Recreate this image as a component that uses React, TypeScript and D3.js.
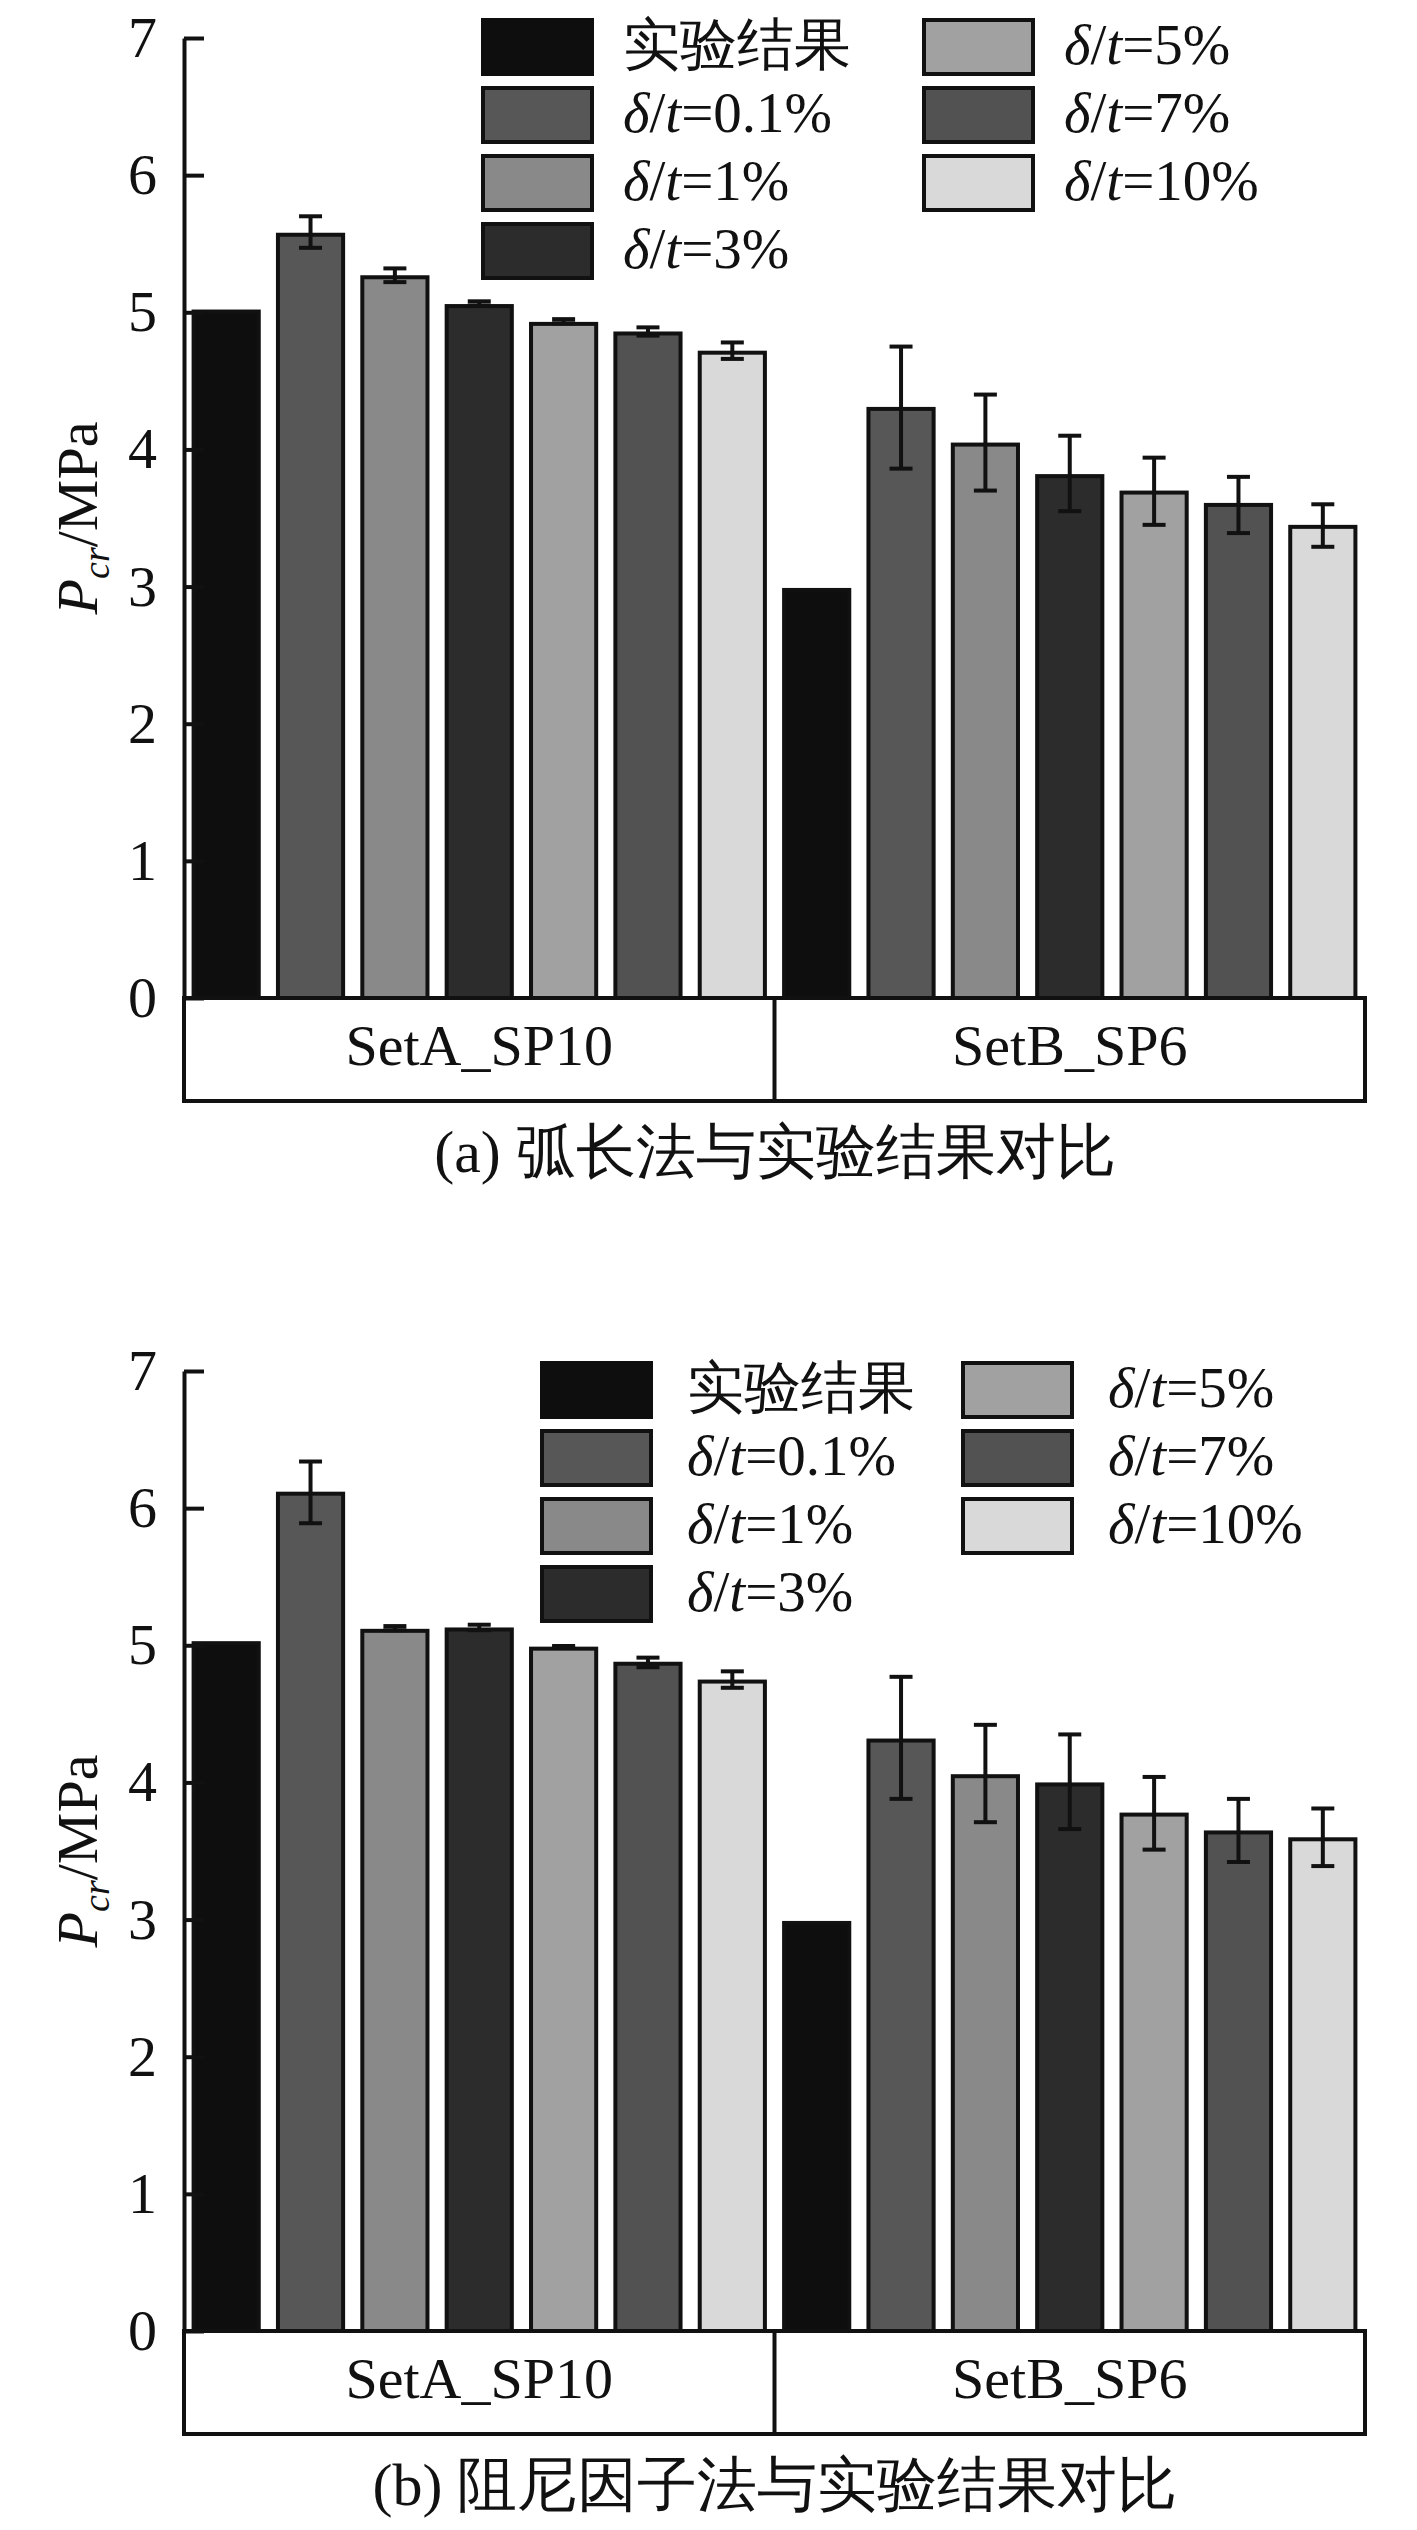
import React, { useEffect, useRef } from 'react';
import * as d3 from 'd3';

// categories and series
const categories = ['SetA_SP10', 'SetB_SP6'];
const seriesKeys = ['exp', 'd0.1', 'd1', 'd3', 'd5', 'd7', 'd10'];
const seriesNames = ['实验结果', '0.1%', '1%', '3%', '5%', '7%', '10%'];
const seriesColors = ['#0e0e0e', '#575757', '#898989', '#2c2c2c', '#a1a1a1', '#525252', '#d9d9d9'];
const yTicks = [0, 1, 2, 3, 4, 5, 6, 7];

// (a) arc-length method
const arcSetA = [5.02, 5.58, 5.27, 5.06, 4.93, 4.86, 4.72];
const arcSetALow = [NaN, 5.47, 5.22, 5.05, 4.92, 4.83, 4.66];
const arcSetAHigh = [NaN, 5.7, 5.32, 5.08, 4.95, 4.89, 4.78];
const arcSetB = [2.99, 4.31, 4.05, 3.82, 3.7, 3.61, 3.45];
const arcSetBLow = [NaN, 3.86, 3.7, 3.55, 3.45, 3.39, 3.29];
const arcSetBHigh = [NaN, 4.75, 4.4, 4.1, 3.94, 3.8, 3.6];

// (b) damping factor method
const dampSetA = [5.03, 6.12, 5.12, 5.13, 4.99, 4.88, 4.75];
const dampSetALow = [NaN, 5.89, 5.11, 5.11, 4.985, 4.84, 4.69];
const dampSetAHigh = [NaN, 6.34, 5.14, 5.15, 4.995, 4.91, 4.81];
const dampSetB = [2.99, 4.32, 4.06, 4.0, 3.78, 3.65, 3.6];
const dampSetBLow = [NaN, 3.88, 3.71, 3.66, 3.51, 3.42, 3.39];
const dampSetBHigh = [NaN, 4.77, 4.42, 4.35, 4.04, 3.88, 3.81];

const captionA = '(a) 弧长法与实验结果对比';
const captionB = '(b) 阻尼因子法与实验结果对比';

const serif = '"Liberation Serif", "DejaVu Serif", serif';

type Panel = {
  top: number;
  bottom: number;
  legendX: number;
  legendY: number;
  legendCol2: number;
  legendText: number;
  caption: string;
  means: number[][];
  lows: number[][];
  highs: number[][];
};

const App: React.FC = () => {
  const ref = useRef<HTMLDivElement>(null);

  useEffect(() => {
    if (!ref.current) return;
    document.body.style.margin = '0';
    d3.select(ref.current).select('svg').remove();

    const width = 1417;
    const height = 2530;
    const left = 184;
    const right = 1365;
    const boxH = 103;

    const svg = d3
      .select(ref.current)
      .append('svg')
      .attr('width', width)
      .attr('height', height)
      .style('display', 'block')
      .style('background', '#fff');

    const panels: Panel[] = [
      {
        top: 38,
        bottom: 998,
        legendX: 481,
        legendY: 18,
        legendCol2: 441,
        legendText: 142,
        caption: captionA,
        means: [arcSetA, arcSetB],
        lows: [arcSetALow, arcSetBLow],
        highs: [arcSetAHigh, arcSetBHigh],
      },
      {
        top: 1371,
        bottom: 2331,
        legendX: 540,
        legendY: 1361,
        legendCol2: 421,
        legendText: 147,
        caption: captionB,
        means: [dampSetA, dampSetB],
        lows: [dampSetALow, dampSetBLow],
        highs: [dampSetAHigh, dampSetBHigh],
      },
    ];

    const x0 = d3.scaleBand<string>().domain(categories).range([left, right]);
    const x1 = d3
      .scaleBand<string>()
      .domain(seriesKeys)
      .range([0, x0.bandwidth()])
      .paddingInner(0.18)
      .paddingOuter(0.09);

    panels.forEach((p) => {
      const g = svg.append('g');
      const y = d3.scaleLinear().domain([0, 7]).range([p.bottom, p.top]);

      // bars
      categories.forEach((cat, ci) => {
        const cg = g.append('g').attr('transform', `translate(${x0(cat)},0)`);
        cg.selectAll('rect')
          .data(p.means[ci])
          .enter()
          .append('rect')
          .attr('x', (d, i) => x1(seriesKeys[i])! + 2)
          .attr('y', (d) => y(d) + 2)
          .attr('width', x1.bandwidth() - 4)
          .attr('height', (d) => y(0) - y(d) - 2)
          .attr('fill', (d, i) => seriesColors[i])
          .attr('stroke', '#111')
          .attr('stroke-width', 4);

        // error bars
        const errs = p.means[ci]
          .map((d, i) => ({ i, lo: p.lows[ci][i], hi: p.highs[ci][i] }))
          .filter((e) => !isNaN(e.lo));
        const eg = cg
          .selectAll('g.err')
          .data(errs)
          .enter()
          .append('g')
          .attr('class', 'err')
          .attr('stroke', '#111')
          .attr('stroke-width', 4);
        const cx = (e: { i: number }) => x1(seriesKeys[e.i])! + x1.bandwidth() / 2;
        eg.append('line')
          .attr('x1', cx)
          .attr('x2', cx)
          .attr('y1', (e) => y(e.lo))
          .attr('y2', (e) => y(e.hi));
        eg.append('line')
          .attr('x1', (e) => cx(e) - 11.5)
          .attr('x2', (e) => cx(e) + 11.5)
          .attr('y1', (e) => y(e.hi))
          .attr('y2', (e) => y(e.hi));
        eg.append('line')
          .attr('x1', (e) => cx(e) - 11.5)
          .attr('x2', (e) => cx(e) + 11.5)
          .attr('y1', (e) => y(e.lo))
          .attr('y2', (e) => y(e.lo));
      });

      // y axis, ticks inward
      const axis = g
        .append('g')
        .attr('transform', `translate(${left},0)`)
        .call(
          d3
            .axisLeft(y)
            .tickValues(yTicks)
            .tickSizeInner(-20)
            .tickSizeOuter(0)
            .tickPadding(27)
            .tickFormat(d3.format('d')),
        );
      axis.attr('font-family', null);
      axis.select('.domain').attr('stroke', '#111').attr('stroke-width', 4);
      axis.selectAll('.tick line').attr('stroke', '#111').attr('stroke-width', 4);
      axis
        .selectAll('.tick text')
        .attr('fill', '#111')
        .style('font-family', serif)
        .style('font-size', '58px');

      // category box
      g.append('rect')
        .attr('x', left)
        .attr('y', p.bottom)
        .attr('width', right - left)
        .attr('height', boxH)
        .attr('fill', 'none')
        .attr('stroke', '#111')
        .attr('stroke-width', 4);
      g.append('line')
        .attr('x1', x0(categories[1])!)
        .attr('x2', x0(categories[1])!)
        .attr('y1', p.bottom)
        .attr('y2', p.bottom + boxH)
        .attr('stroke', '#111')
        .attr('stroke-width', 4);
      g.selectAll('text.cat')
        .data(categories)
        .enter()
        .append('text')
        .attr('class', 'cat')
        .attr('x', (d) => x0(d)! + x0.bandwidth() / 2)
        .attr('y', p.bottom + 67)
        .attr('text-anchor', 'middle')
        .style('font-family', serif)
        .style('font-size', '58px')
        .attr('fill', '#111')
        .text((d) => d);

      // y label
      const yl = g
        .append('text')
        .attr('transform', `translate(97,${(p.top + p.bottom) / 2}) rotate(-90)`)
        .attr('text-anchor', 'middle')
        .style('font-family', serif)
        .style('font-size', '58px')
        .attr('fill', '#111');
      yl.append('tspan').style('font-style', 'italic').text('P');
      yl.append('tspan')
        .style('font-style', 'italic')
        .style('font-size', '38px')
        .attr('dy', 12)
        .text('cr');
      yl.append('tspan').attr('dy', -12).text('/MPa');

      // legend
      seriesKeys.forEach((k, i) => {
        const col = i < 4 ? 0 : 1;
        const row = i < 4 ? i : i - 4;
        const lx = p.legendX + col * p.legendCol2;
        const ly = p.legendY + row * 68;
        g.append('rect')
          .attr('x', lx + 2)
          .attr('y', ly + 2)
          .attr('width', 109)
          .attr('height', 54)
          .attr('fill', seriesColors[i])
          .attr('stroke', i === 0 ? seriesColors[0] : '#111')
          .attr('stroke-width', 4);
        const t = g
          .append('text')
          .attr('x', lx + p.legendText)
          .attr('y', ly + 46)
          .style('font-family', serif)
          .style('font-size', '57px')
          .attr('fill', '#111');
        if (i === 0) {
          t.text(seriesNames[i]);
        } else {
          t.append('tspan').style('font-style', 'italic').text('δ');
          t.append('tspan').text('/');
          t.append('tspan').style('font-style', 'italic').text('t');
          t.append('tspan').text(`=${seriesNames[i]}`);
        }
      });

      // caption
      g.append('text')
        .attr('x', 775)
        .attr('y', p.bottom + 174)
        .attr('text-anchor', 'middle')
        .style('font-family', serif)
        .style('font-size', '60px')
        .attr('fill', '#111')
        .text(p.caption);
    });
  }, []);

  return <div ref={ref}></div>;
};

export default App;
